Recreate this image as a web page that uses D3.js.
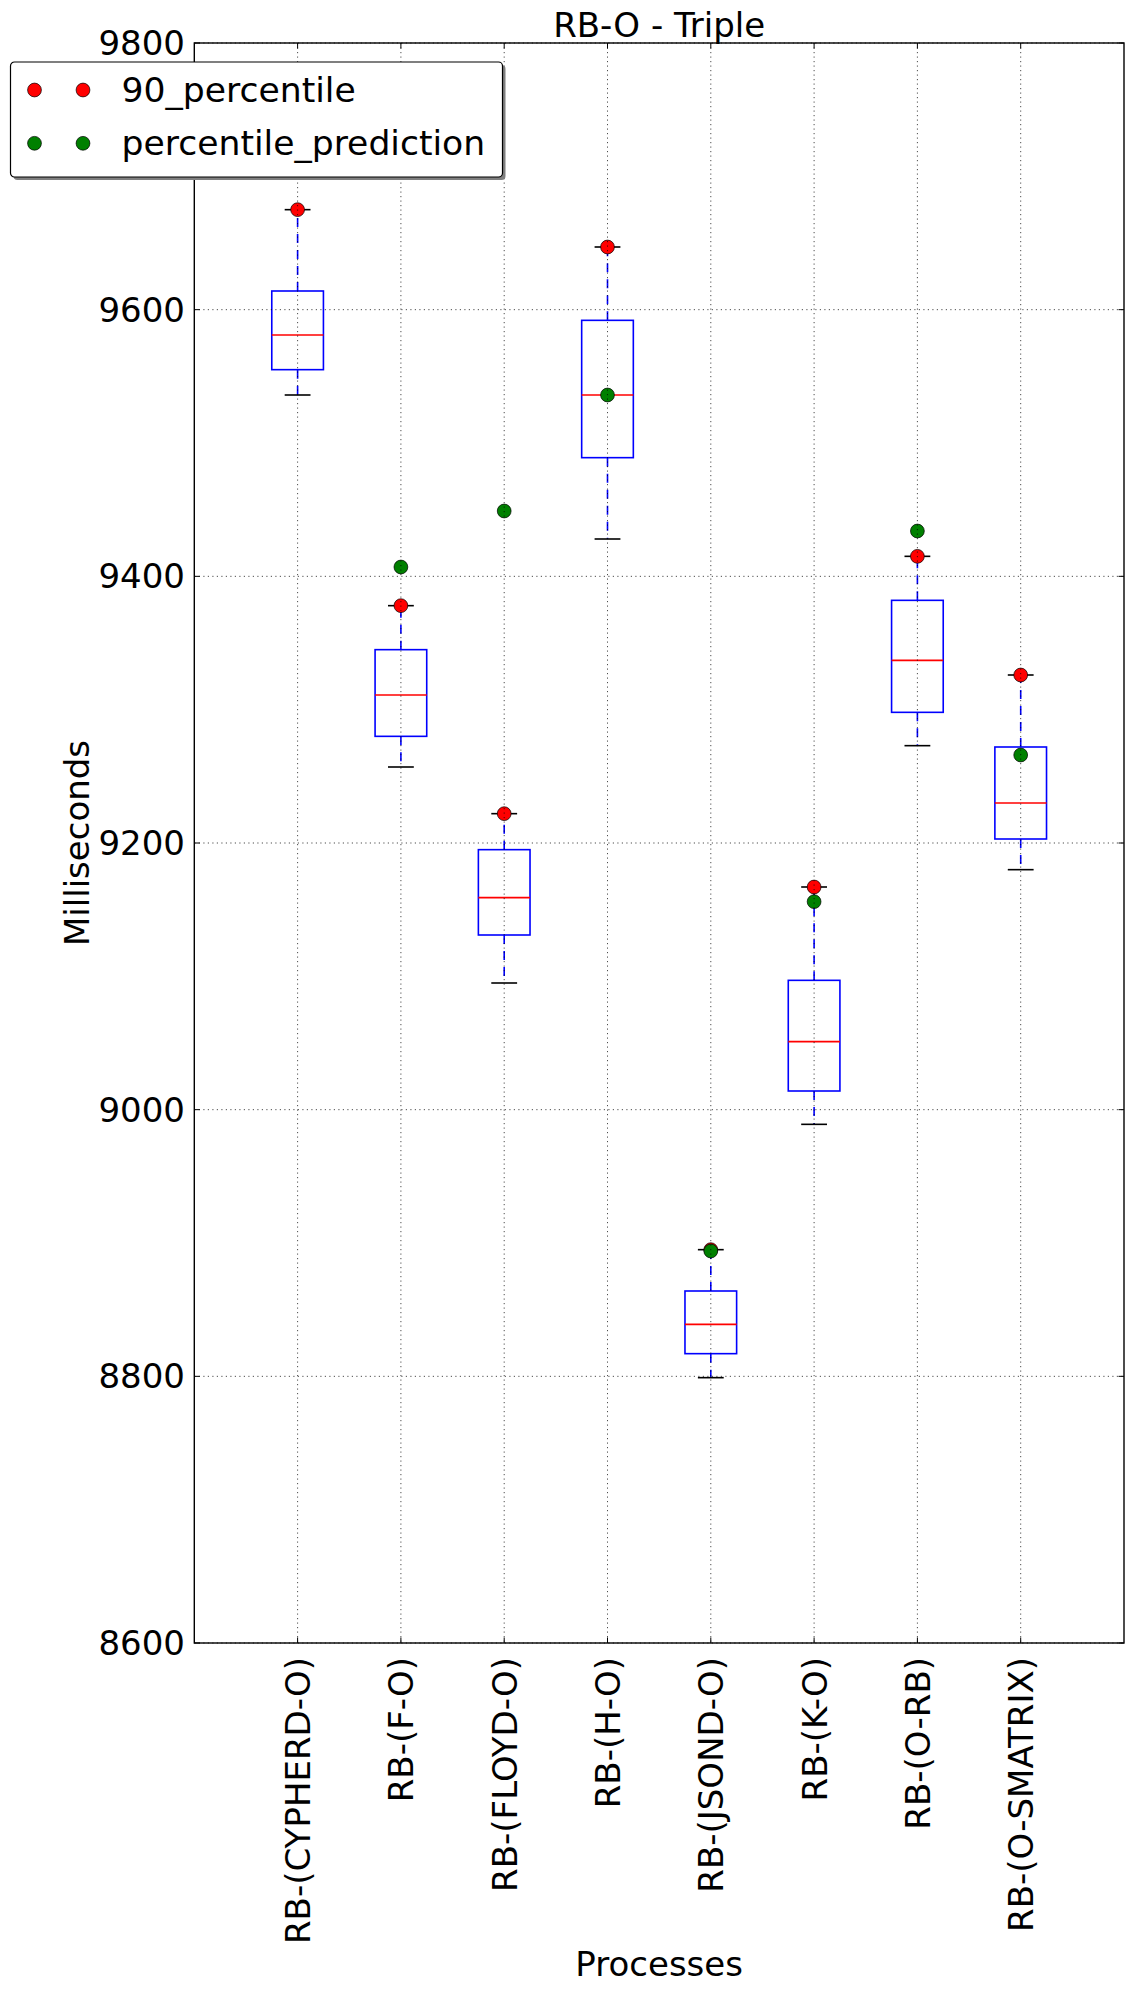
<!DOCTYPE html>
<html>
<head>
<meta charset="utf-8">
<script src="https://cdn.jsdelivr.net/npm/d3@7"></script>
<style>
    body { margin: 0; background: #fff; }
    svg text { font-family: "DejaVu Sans", sans-serif; fill: #000; }
</style>
</head>
<body>
<svg id="chart"></svg>
<script>
    // values
    const categories = ["RB-(CYPHERD-O)", "RB-(F-O)", "RB-(FLOYD-O)", "RB-(H-O)",
        "RB-(JSOND-O)", "RB-(K-O)", "RB-(O-RB)", "RB-(O-SMATRIX)"];
    const whiskerHigh = [9675, 9378, 9222, 9647, 8895, 9167, 9415, 9326];
    const q3Values = [9614, 9345, 9195, 9592, 8864, 9097, 9382, 9272];
    const medians = [9581, 9311, 9159, 9536, 8839, 9051, 9337, 9230];
    const q1Values = [9555, 9280, 9131, 9489, 8817, 9014, 9298, 9203];
    const whiskerLow = [9536, 9257, 9095, 9428, 8799, 8989, 9273, 9180];
    const percentile90 = [9675, 9378, 9222, 9647, 8895, 9167, 9415, 9326];
    const prediction = [null, 9407, 9449, 9536, 8894, 9156, 9434, 9266];
    const yTicks = [8600, 8800, 9000, 9200, 9400, 9600, 9800];

    const config = {
        width: 1133, height: 1993,
        left: 194.3, right: 1124, top: 43, bottom: 1643,
        font: 34, legendFont: 34.6, dotR: 6.9, lw: 1.6, tick: 5.5
    };

    const svg = d3.select("#chart")
        .attr("width", config.width)
        .attr("height", config.height);

    const x = d3.scaleLinear().domain([0, categories.length + 1]).range([config.left, config.right]);
    const y = d3.scaleLinear().domain([8600, 9800]).range([config.bottom, config.top]);

    const rows = categories.map((c, i) => ({
        name: c, pos: i + 1,
        hi: whiskerHigh[i], q3: q3Values[i], med: medians[i], q1: q1Values[i], lo: whiskerLow[i],
        p90: percentile90[i], pred: prediction[i]
    }));

    // boxes
    const box = svg.append("g").selectAll("g").data(rows).enter().append("g");

    box.append("line") // upper whisker
        .attr("x1", d => x(d.pos)).attr("x2", d => x(d.pos))
        .attr("y1", d => y(d.q3)).attr("y2", d => y(d.hi))
        .attr("stroke", "#0000ff").attr("stroke-width", config.lw)
        .attr("stroke-dasharray", "9,7");
    box.append("line") // lower whisker
        .attr("x1", d => x(d.pos)).attr("x2", d => x(d.pos))
        .attr("y1", d => y(d.q1)).attr("y2", d => y(d.lo))
        .attr("stroke", "#0000ff").attr("stroke-width", config.lw)
        .attr("stroke-dasharray", "9,7");
    box.append("rect")
        .attr("x", d => x(d.pos - 0.25))
        .attr("width", x(0.5) - x(0))
        .attr("y", d => y(d.q3))
        .attr("height", d => y(d.q1) - y(d.q3))
        .attr("fill", "none").attr("stroke", "#0000ff").attr("stroke-width", config.lw);
    box.append("line") // median
        .attr("x1", d => x(d.pos - 0.25)).attr("x2", d => x(d.pos + 0.25))
        .attr("y1", d => y(d.med)).attr("y2", d => y(d.med))
        .attr("stroke", "#ff0000").attr("stroke-width", config.lw);
    [d => d.hi, d => d.lo].forEach(f => {
        box.append("line") // caps
            .attr("x1", d => x(d.pos - 0.125)).attr("x2", d => x(d.pos + 0.125))
            .attr("y1", d => y(f(d))).attr("y2", d => y(f(d)))
            .attr("stroke", "#000").attr("stroke-width", config.lw);
    });

    // dots: red first, green on top
    svg.append("g").selectAll("circle").data(rows).enter().append("circle")
        .attr("cx", d => x(d.pos)).attr("cy", d => y(d.p90)).attr("r", config.dotR)
        .attr("fill", "#ff0000").attr("stroke", "#000").attr("stroke-width", 0.7);
    svg.append("g").selectAll("circle").data(rows.filter(d => d.pred != null)).enter().append("circle")
        .attr("cx", d => x(d.pos)).attr("cy", d => y(d.pred)).attr("r", config.dotR)
        .attr("fill", "#008000").attr("stroke", "#000").attr("stroke-width", 0.7);

    // grid drawn over the data, like the classic style
    const grid = svg.append("g")
        .attr("stroke", "#000").attr("stroke-width", 0.7).attr("stroke-dasharray", "1.2,3.3");
    grid.selectAll(".gx").data(rows).enter().append("line")
        .attr("x1", d => x(d.pos)).attr("x2", d => x(d.pos))
        .attr("y1", config.top).attr("y2", config.bottom);
    grid.selectAll(".gy").data(yTicks).enter().append("line")
        .attr("x1", config.left).attr("x2", config.right)
        .attr("y1", d => y(d)).attr("y2", d => y(d));

    // inward ticks on all four sides
    const ticks = svg.append("g").attr("stroke", "#000").attr("stroke-width", 1);
    rows.forEach(d => {
        ticks.append("line").attr("x1", x(d.pos)).attr("x2", x(d.pos))
            .attr("y1", config.bottom).attr("y2", config.bottom - config.tick);
        ticks.append("line").attr("x1", x(d.pos)).attr("x2", x(d.pos))
            .attr("y1", config.top).attr("y2", config.top + config.tick);
    });
    yTicks.forEach(v => {
        ticks.append("line").attr("x1", config.left).attr("x2", config.left + config.tick)
            .attr("y1", y(v)).attr("y2", y(v));
        ticks.append("line").attr("x1", config.right).attr("x2", config.right - config.tick)
            .attr("y1", y(v)).attr("y2", y(v));
    });

    // frame
    svg.append("rect")
        .attr("x", config.left).attr("y", config.top)
        .attr("width", config.right - config.left).attr("height", config.bottom - config.top)
        .attr("fill", "none").attr("stroke", "#000").attr("stroke-width", 1.4);

    // tick labels
    svg.append("g").selectAll("text").data(yTicks).enter().append("text")
        .attr("x", 185).attr("y", d => y(d)).attr("dy", "0.35em")
        .attr("text-anchor", "end").attr("font-size", config.font)
        .text(d => d);

    svg.append("g").selectAll("text").data(rows).enter().append("text")
        .attr("transform", d => `translate(${x(d.pos) + 12.5}, ${config.bottom + 14}) rotate(-90)`)
        .attr("text-anchor", "end").attr("font-size", config.font)
        .text(d => d.name);

    // titles
    svg.append("text")
        .attr("x", (config.left + config.right) / 2).attr("y", 37)
        .attr("text-anchor", "middle").attr("font-size", config.font)
        .text("RB-O - Triple");
    svg.append("text")
        .attr("x", (config.left + config.right) / 2).attr("y", 1976)
        .attr("text-anchor", "middle").attr("font-size", config.font)
        .text("Processes");
    svg.append("text")
        .attr("transform", `translate(89, ${(config.top + config.bottom) / 2}) rotate(-90)`)
        .attr("text-anchor", "middle").attr("font-size", config.font)
        .text("Milliseconds");

    // legend
    const legendItems = [
        { label: "90_percentile", color: "#ff0000" },
        { label: "percentile_prediction", color: "#008000" }
    ];
    const legend = svg.append("g").attr("transform", "translate(10.5, 62)");
    legend.append("rect")
        .attr("x", 3).attr("y", 3).attr("width", 492).attr("height", 115).attr("rx", 4)
        .attr("fill", "#7f7f7f");
    legend.append("rect")
        .attr("width", 492).attr("height", 115).attr("rx", 4)
        .attr("fill", "#fff").attr("stroke", "#000").attr("stroke-width", 1.2);
    const item = legend.selectAll(".item").data(legendItems).enter().append("g")
        .attr("transform", (d, i) => `translate(0, ${28 + i * 53.3})`);
    [24, 72.5].forEach(mx => {
        item.append("circle").attr("cx", mx).attr("cy", 0).attr("r", config.dotR)
            .attr("fill", d => d.color).attr("stroke", "#000").attr("stroke-width", 0.7);
    });
    item.append("text").attr("x", 111).attr("y", 11.7)
        .attr("font-size", config.legendFont)
        .text(d => d.label);
</script>
</body>
</html>
